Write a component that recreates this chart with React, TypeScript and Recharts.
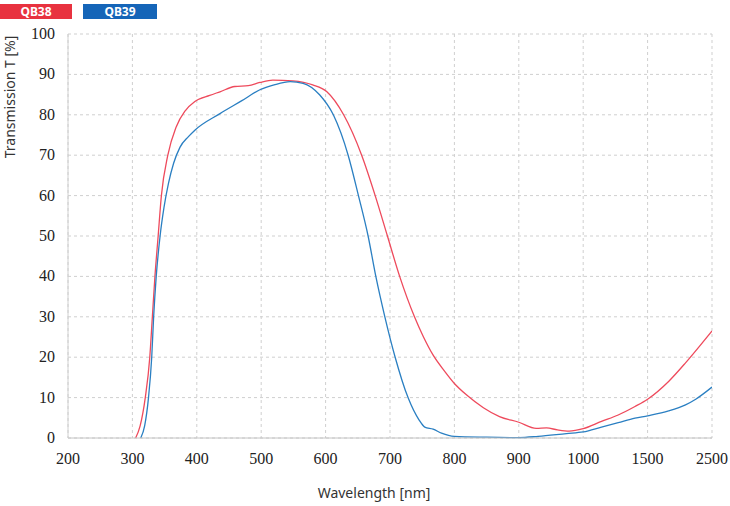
import React from "react";
import { LineChart, Line, XAxis, YAxis, CartesianGrid } from "recharts";

// tick labels along the wavelength axis (equal spacing, scale changes after 1000 nm)
const xTickLabels = ["200", "300", "400", "500", "600", "700", "800", "900", "1000", "1500", "2500"];
const yTicks = [0, 10, 20, 30, 40, 50, 60, 70, 80, 90, 100];

const qb38Wavelength = [
  305, 312, 320, 327, 331, 335, 340, 345, 355, 368, 382, 397, 420, 436, 459, 480, 498, 518, 549, 580, 602, 628,
  656, 677, 696, 715, 738, 752, 767, 785, 800, 820, 845, 870, 900, 927, 943, 960, 978, 1000, 1142, 1272, 1402, 1500,
  1826, 2089, 2352, 2500,
];
const qb38Transmission = [
  0, 3, 10, 20, 30, 40, 50, 60, 70, 77, 81, 83.3, 84.8, 85.7, 87, 87.2, 88, 88.6, 88.4, 87.4, 85.7, 80, 70, 60, 50,
  40, 30, 25, 20.5, 16.5, 13.5, 10.5, 7.5, 5.3, 3.9, 2.4, 2.5, 2.0, 1.7, 2.3, 4.1, 5.7, 7.8, 9.6, 14, 18.6, 23.6,
  26.5,
];

const qb39Wavelength = [
  313, 319, 325, 330, 333, 337, 343, 349, 356, 364, 374, 387, 397, 436, 470, 498, 520, 545, 565, 591, 612, 635, 651,
  666, 678, 692, 708, 728, 745, 754, 767, 780, 800, 850, 900, 930, 974, 1000, 1142, 1272, 1402, 1500, 1826, 2089,
  2247, 2500,
];
const qb39Transmission = [
  0, 3, 10, 20, 30, 40, 50, 57, 63, 68, 72, 74.6, 76.2, 80.3, 83.5, 86.2, 87.4, 88.2, 87.8, 84.9, 80, 70, 60, 50, 40,
  30, 20, 10, 4.5, 2.7, 2.2, 1.2, 0.4, 0.2, 0.1, 0.4, 1.1, 1.5, 2.7, 3.8, 4.9, 5.5, 6.7, 8.2, 9.6, 12.6,
];

// piecewise mapping of wavelength to axis position
const toPos = (wl: number) =>
  wl <= 1000 ? (wl - 200) / 100 : wl <= 1500 ? 8 + (wl - 1000) / 500 : 9 + (wl - 1500) / 1000;

const qb38Data = qb38Wavelength.map((wl, i) => ({ pos: toPos(wl), t: qb38Transmission[i] }));
const qb39Data = qb39Wavelength.map((wl, i) => ({ pos: toPos(wl), t: qb39Transmission[i] }));

const serif = "'Times New Roman', Tinos, 'Liberation Serif', 'Noto Serif', 'DejaVu Serif', serif";
const sans = "'Noto Sans', 'Open Sans', sans-serif";

const XTick = ({ x, y, payload }: any) => (
  <text x={x} y={y + 24} textAnchor="middle" fontFamily={serif} fontSize={16} fill="#222">
    {xTickLabels[payload.value]}
  </text>
);

const YTick = ({ x, y, payload }: any) => (
  <text x={x - 11} y={y + 5} textAnchor="end" fontFamily={serif} fontSize={16} fill="#222">
    {payload.value}
  </text>
);

export default function App() {
  return (
    <div style={{ position: "absolute", left: 0, top: 0, width: 730, height: 506, background: "#fff" }}>
      <div
        style={{
          position: "absolute", left: 0, top: 4, width: 72, height: 15, background: "#e8323f", color: "#fff",
          fontFamily: sans, fontWeight: 700, fontSize: 12, lineHeight: "15px", textAlign: "center",
        }}
      >
        QB38
      </div>
      <div
        style={{
          position: "absolute", left: 83, top: 4, width: 74, height: 15, background: "#1565b8", color: "#fff",
          fontFamily: sans, fontWeight: 700, fontSize: 12, lineHeight: "15px", textAlign: "center",
        }}
      >
        QB39
      </div>

      <LineChart width={730} height={506} margin={{ top: 34, right: 18, bottom: 0, left: 0 }}>
        <CartesianGrid stroke="#cfcfcf" strokeDasharray="3 3" />
        <XAxis
          type="number"
          dataKey="pos"
          domain={[0, 10]}
          ticks={[0, 1, 2, 3, 4, 5, 6, 7, 8, 9, 10]}
          height={68}
          tickSize={0}
          axisLine={{ stroke: "#c4c4c4" }}
          tick={<XTick />}
          allowDataOverflow
        />
        <XAxis xAxisId="top" orientation="top" type="number" domain={[0, 10]} height={0} tick={false} tickLine={false} axisLine={{ stroke: "#d0d0d0" }} />
        <YAxis
          type="number"
          domain={[0, 100]}
          ticks={yTicks}
          width={68}
          tickSize={0}
          axisLine={{ stroke: "#d0d0d0" }}
          tick={<YTick />}
        />
        <YAxis yAxisId="right" orientation="right" domain={[0, 100]} width={0} tick={false} tickLine={false} axisLine={{ stroke: "#d0d0d0" }} />
        <Line data={qb38Data} dataKey="t" type="monotone" stroke="#ee4a5c" strokeWidth={1.3} dot={false} isAnimationActive={false} />
        <Line data={qb39Data} dataKey="t" type="monotone" stroke="#2a7fc2" strokeWidth={1.3} dot={false} isAnimationActive={false} />
      </LineChart>

      <div
        style={{
          position: "absolute", left: 9, top: 97, transform: "translate(-50%, -50%) rotate(-90deg)",
          whiteSpace: "nowrap", fontFamily: sans, fontSize: 14, color: "#333",
        }}
      >
        Transmission T [%]
      </div>
      <div
        style={{
          position: "absolute", left: 374, top: 492, transform: "translate(-50%, -50%)",
          whiteSpace: "nowrap", fontFamily: sans, fontSize: 14, color: "#333",
        }}
      >
        Wavelength [nm]
      </div>
    </div>
  );
}
